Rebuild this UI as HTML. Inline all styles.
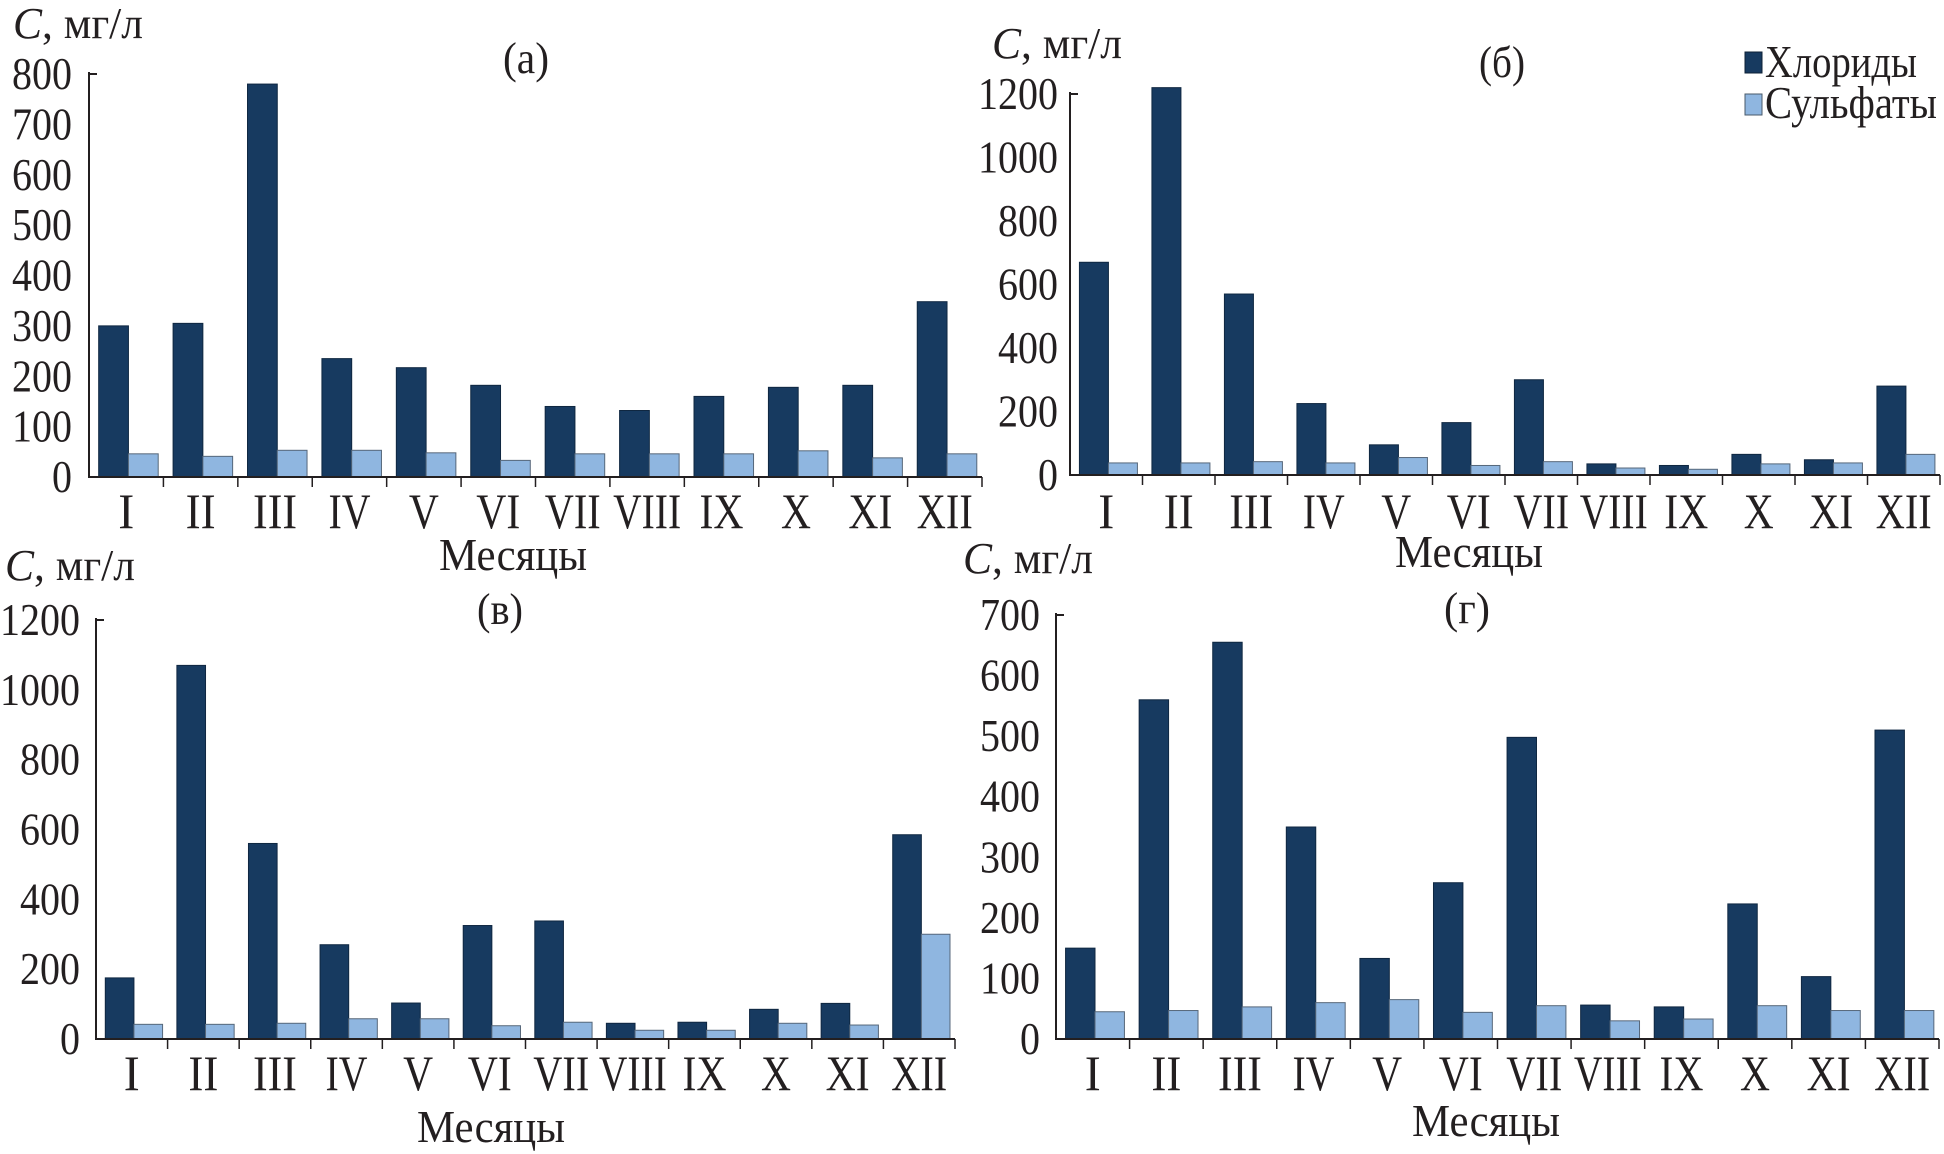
<!DOCTYPE html>
<html><head><meta charset="utf-8">
<style>
html,body{margin:0;padding:0;background:#fff;}
svg{display:block;}
text{font-family:"Liberation Serif","DejaVu Serif",serif;fill:#231f20;}
</style></head>
<body>
<svg id="fig" width="1944" height="1154" viewBox="0 0 1944 1154" xmlns="http://www.w3.org/2000/svg">
  <g>
    <rect x="1745" y="52" width="17" height="21" fill="#173a60" stroke="#0d2036" stroke-width="1"/>
    <text x="1765" y="77" font-size="46" textLength="152" lengthAdjust="spacingAndGlyphs">Хлориды</text>
    <rect x="1745" y="94" width="17" height="21" fill="#8fb6e0" stroke="#4a5a6a" stroke-width="1"/>
    <text x="1765" y="118" font-size="46" textLength="172" lengthAdjust="spacingAndGlyphs">Сульфаты</text>
  </g>
</svg>
<script>
const months = ["I","II","III","IV","V","VI","VII","VIII","IX","X","XI","XII"];
const chloridesA = [300,305,780,235,217,182,140,132,160,178,182,348];
const sulfatesA  = [46,41,53,53,48,33,46,46,46,52,38,46];
const ticksA = [0,100,200,300,400,500,600,700,800];
const chloridesB = [670,1220,570,225,95,165,300,35,30,65,48,280];
const sulfatesB  = [38,38,42,38,55,30,42,22,18,35,38,65];
const ticksB = [0,200,400,600,800,1000,1200];
const chloridesV = [175,1070,560,270,103,325,338,45,48,85,102,585];
const sulfatesV  = [42,42,45,58,58,38,48,25,25,45,40,300];
const ticksV = [0,200,400,600,800,1000,1200];
const chloridesG = [150,560,655,350,133,258,498,56,53,223,103,510];
const sulfatesG  = [45,47,53,60,65,44,55,30,33,55,47,47];
const ticksG = [0,100,200,300,400,500,600,700];

const NS = "http://www.w3.org/2000/svg";
const svg = document.getElementById('fig');
function mk(tag, attrs, parent){
  const e = document.createElementNS(NS, tag);
  for (const k in attrs) e.setAttribute(k, attrs[k]);
  parent.appendChild(e);
  return e;
}
const numW = {I:16, II:30, III:44, IV:42, V:30, VI:44, VII:56, VIII:68, IX:44, X:30, XI:44, XII:56};
function panel(p){
  const g = mk('g', {}, svg);
  
  
  const maxV = p.ticks[p.ticks.length-1];
  const yScale = v => p.y0 - (p.y0 - p.yTop) * v / maxV;
  const cw = (p.x1 - p.x0) / months.length;
  const xScale = i => p.x0 + i * cw;
  const bw = cw * 0.4;
  const off = cw * 0.13;
  p.ticks.forEach(t => {
    const s = String(t);
    const tx = mk('text', {x: p.labelX - 20*s.length, y: yScale(t) + 15, 'font-size': 46, textLength: 20*s.length, lengthAdjust: 'spacingAndGlyphs'}, g);
    
    
    tx.textContent = s;
  });
  months.forEach((m, i) => {
    const xc = xScale(i) + off;
    const hc = p.y0 - yScale(p.cl[i]);
    const r1 = mk('rect', {x: xc, y: yScale(p.cl[i]), width: bw, height: hc, fill: '#173a60', stroke: '#0f2741', 'stroke-width': 1}, g);
    
    
    const hs = p.y0 - yScale(p.su[i]);
    const r2 = mk('rect', {x: xc + bw, y: yScale(p.su[i]), width: bw, height: hs, fill: '#8fb6e0', stroke: '#56677a', 'stroke-width': 1}, g);
    
    
    const w = numW[m];
    const lb = mk('text', {x: xScale(i) + cw/2 - w/2, y: p.xLabY, 'font-size': 50, textLength: w, lengthAdjust: 'spacingAndGlyphs'}, g);
    
    
    lb.textContent = m;
    const tk = mk('line', {x1: xScale(i+1), x2: xScale(i+1), y1: p.y0, y2: p.y0 + 10, stroke: '#231f20', 'stroke-width': 1.5}, g);
    
    
  });
  const ya = mk('line', {x1: p.x0, x2: p.x0, y1: p.yTop - 2, y2: p.y0 + 1, stroke: '#231f20', 'stroke-width': 2}, g);
  
  
  const yt = mk('line', {x1: p.x0, x2: p.x0 + 8, y1: p.yTop, y2: p.yTop, stroke: '#231f20', 'stroke-width': 2}, g);
  
  
  const xa = mk('line', {x1: p.x0, x2: p.x1, y1: p.y0, y2: p.y0, stroke: '#231f20', 'stroke-width': 2}, g);
  
  
  const yl = mk('text', {x: p.cX, y: p.cY, 'font-size': 44, textLength: 130, lengthAdjust: 'spacingAndGlyphs'}, g);
  
  
  yl.innerHTML = '<tspan font-style="italic">C</tspan>, мг/л';
  const tt = mk('text', {x: p.tX - 23, y: p.tY, 'font-size': 44, textLength: 46, lengthAdjust: 'spacingAndGlyphs'}, g);
  
  
  tt.textContent = p.title;
  const xl = mk('text', {x: p.mX - 74, y: p.mY, 'font-size': 46, textLength: 148, lengthAdjust: 'spacingAndGlyphs'}, g);
  
  
  xl.textContent = 'Месяцы';
}
panel({id:'a', title:'(а)', cl:chloridesA, su:sulfatesA, ticks:ticksA, x0:89, x1:982, y0:477, yTop:74, labelX:72, xLabY:528, cX:13, cY:38, tX:526, tY:73, mX:513, mY:570});
panel({id:'b', title:'(б)', cl:chloridesB, su:sulfatesB, ticks:ticksB, x0:1070, x1:1940, y0:475, yTop:94, labelX:1058, xLabY:528, cX:992, cY:58, tX:1502, tY:77, mX:1469, mY:567});
panel({id:'v', title:'(в)', cl:chloridesV, su:sulfatesV, ticks:ticksV, x0:96, x1:955, y0:1039, yTop:620, labelX:80, xLabY:1090, cX:5, cY:580, tX:500, tY:624, mX:491, mY:1142});
panel({id:'g', title:'(г)', cl:chloridesG, su:sulfatesG, ticks:ticksG, x0:1056, x1:1939, y0:1039, yTop:615, labelX:1040, xLabY:1090, cX:963, cY:573, tX:1467, tY:623, mX:1486, mY:1136});
</script>
</body></html>
